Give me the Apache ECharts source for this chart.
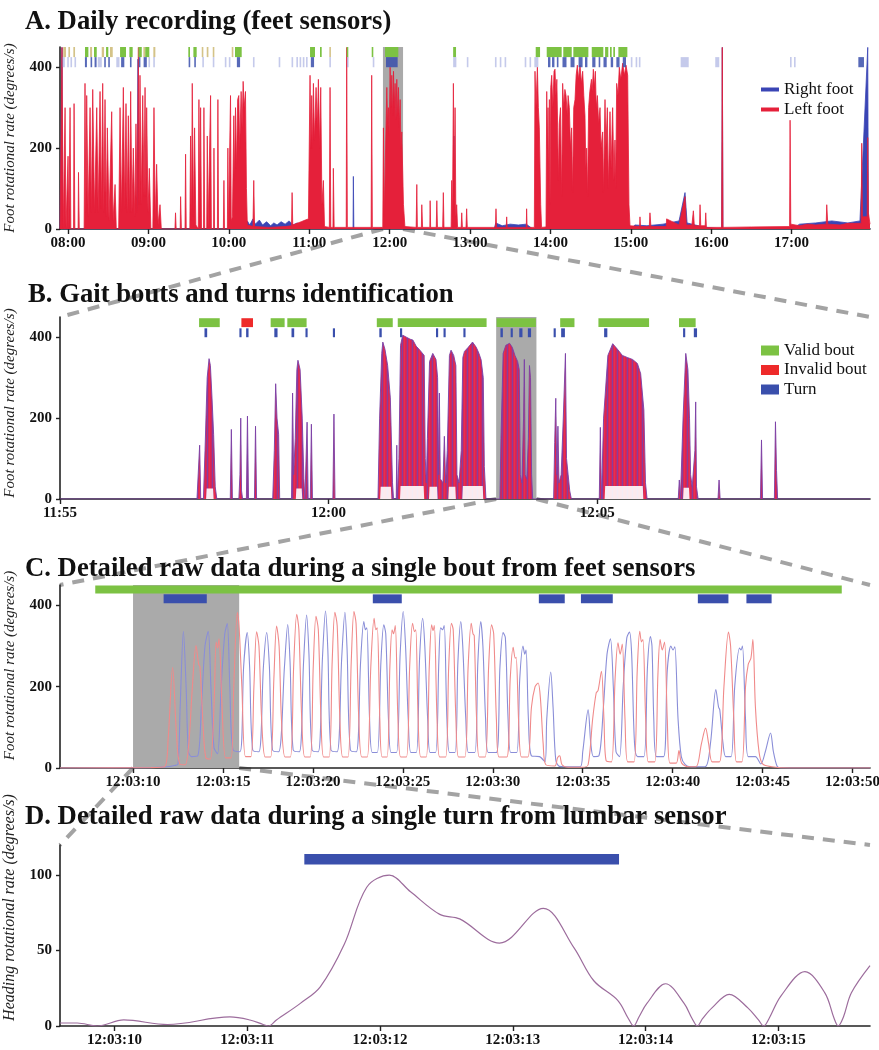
<!DOCTYPE html>
<html><head><meta charset="utf-8">
<script src="https://cdn.jsdelivr.net/npm/echarts@6/dist/echarts.min.js"></script>
<style>html,body{margin:0;padding:0;background:#fff}#c{width:879px;height:1050px}</style>
</head><body><div id="c"></div>
<script>
// ---------- Panel A (x = hour of day, decimal) ----------
const aLeft = [
[7.90,0],[7.925,449],[7.94,0],[7.955,0],[7.963,300],[7.975,0],[7.995,0],[8.0,180],[8.01,0],[8.02,0],[8.025,300],[8.035,0],[8.068,0],[8.075,310],[8.085,0],[8.125,0],[8.13,140],[8.14,0],
[8.2,0],[8.211,360],[8.222,40],[8.232,330],[8.25,30],[8.274,300],[8.29,40],[8.307,345],[8.33,40],[8.357,300],[8.375,40],[8.398,340],[8.415,50],[8.431,360],[8.445,40],[8.46,320],[8.475,30],[8.489,250],[8.51,20],[8.543,290],[8.56,20],[8.585,110],[8.6,0],
[8.63,0],[8.647,300],[8.665,40],[8.688,350],[8.705,50],[8.721,310],[8.735,40],[8.75,280],[8.765,40],[8.779,340],[8.795,40],[8.812,200],[8.83,30],[8.845,260],[8.86,40],[8.875,449],[8.885,60],[8.895,380],[8.91,60],[8.929,330],[8.945,80],[8.958,350],[8.968,80],[8.978,300],[8.995,40],[9.011,150],[9.03,0],
[9.055,0],[9.069,300],[9.085,20],[9.102,160],[9.12,10],[9.144,60],[9.16,0],
[9.33,0],[9.337,40],[9.345,0],[9.395,0],[9.4,80],[9.41,0],[9.455,0],[9.462,185],[9.47,0],
[9.515,0],[9.524,230],[9.535,20],[9.545,360],[9.56,30],[9.574,250],[9.59,10],[9.62,0],[9.628,320],[9.638,30],[9.649,300],[9.66,0],[9.685,0],[9.69,300],[9.7,0],[9.725,0],[9.732,230],[9.742,0],[9.765,0],[9.773,330],[9.783,0],[9.81,0],[9.815,200],[9.822,0],[9.858,0],[9.864,320],[9.872,0],[9.932,0],[9.939,120],[9.946,0],[9.982,0],[9.988,200],[9.995,0],[10.015,0],[10.021,330],[10.03,20],
[10.045,30],[10.062,280],[10.07,120],[10.083,300],[10.095,150],[10.11,320],[10.124,330],[10.135,200],[10.153,340],[10.165,250],[10.178,365],[10.19,300],[10.207,340],[10.219,100],[10.23,10],
[10.3,6],[10.31,120],[10.32,6],[10.5,4],[10.7,6],[10.78,8],[10.787,90],[10.795,10],[10.85,14],[10.9,18],[10.95,22],
[10.99,25],[11.01,380],[11.02,200],[11.031,330],[11.04,200],[11.052,360],[11.065,220],[11.085,350],[11.1,250],[11.114,370],[11.13,200],[11.143,350],[11.158,60],[11.176,120],[11.19,6],
[11.25,4],[11.259,350],[11.268,4],[11.295,4],[11.3,150],[11.31,4],[11.46,4],[11.466,449],[11.474,4],[11.77,4],[11.777,380],[11.785,4],
[11.915,4],[11.923,250],[11.935,30],[11.95,200],[11.965,350],[11.975,260],[11.985,300],[11.995,230],[12.006,400],[12.017,300],[12.027,380],[12.038,280],[12.048,390],[12.058,300],[12.068,360],[12.079,270],[12.089,370],[12.1,280],[12.11,350],[12.12,250],[12.131,320],[12.141,200],[12.151,240],[12.172,60],[12.19,6],
[12.33,4],[12.338,110],[12.345,4],[12.395,4],[12.4,60],[12.41,4],[12.5,4],[12.504,70],[12.51,4],[12.58,4],[12.587,70],[12.595,4],
[12.66,4],[12.668,90],[12.676,4],[12.765,4],[12.772,120],[12.782,30],[12.793,360],[12.805,80],[12.814,300],[12.824,30],[12.834,60],[12.845,4],[12.89,4],[12.897,40],[12.905,4],[12.95,4],[12.958,50],[12.966,4],
[13.316,4],[13.323,50],[13.33,4],[13.45,4],[13.456,30],[13.462,4],[13.7,4],[13.704,50],[13.71,4],
[13.8,4],[13.808,390],[13.82,300],[13.838,400],[13.85,300],[13.862,250],[13.879,60],[13.89,4],
[13.945,5],[13.954,340],[13.962,200],[13.97,300],[13.978,120],[13.987,320],[13.995,60],[14.004,350],[14.016,380],[14.03,300],[14.045,390],[14.057,395],[14.068,330],[14.08,370],[14.09,250],[14.1,120],[14.11,260],[14.125,300],[14.14,80],[14.152,360],[14.165,300],[14.18,345],[14.194,330],[14.21,280],[14.22,330],[14.235,300],[14.25,200],[14.264,250],[14.275,90],[14.29,300],[14.306,320],[14.32,380],[14.335,405],[14.35,370],[14.368,405],[14.385,360],[14.401,390],[14.415,330],[14.43,280],[14.44,150],[14.451,200],[14.462,80],[14.475,300],[14.49,340],[14.51,370],[14.52,340],[14.534,395],[14.547,350],[14.559,390],[14.57,300],[14.584,330],[14.6,260],[14.617,300],[14.63,200],[14.65,240],[14.66,90],[14.679,320],[14.69,200],[14.708,300],[14.72,100],[14.741,290],[14.755,150],[14.774,300],[14.79,120],[14.803,220],[14.812,100],[14.824,360],[14.84,330],[14.857,400],[14.875,370],[14.899,410],[14.92,380],[14.94,405],[14.961,380],[14.977,60],[14.99,8],
[15.11,6],[15.114,30],[15.12,6],[15.23,6],[15.238,40],[15.25,6],[15.44,6],[15.445,25],[15.6,10],[15.674,80],[15.69,10],[15.76,10],[15.778,45],[15.79,8],[15.855,8],[15.861,60],[15.87,8],[15.925,8],[15.932,40],[15.94,4],[16.13,4],[16.138,449],[16.146,4],
[16.5,5],[16.975,6],[16.981,269],[16.99,12],[17.1,8],[17.2,12],[17.3,10],[17.43,12],[17.437,60],[17.45,12],[17.6,10],[17.7,14],[17.865,14],[17.872,212],[17.88,30],[17.94,30],[17.947,226],[17.955,40],[17.975,12]
];
const aRight = [
[7.9,0],[7.92,0],[7.925,449],[7.932,0],[8.86,0],[8.87,420],[8.88,0],[10.2,0],[10.23,20],[10.26,10],[10.3,25],[10.33,12],[10.38,22],[10.42,10],[10.47,18],[10.52,8],[10.56,15],[10.6,10],[10.65,18],[10.7,12],[10.75,20],[10.8,10],[10.85,15],[10.9,8],[10.95,10],[11.0,0],
[11.545,0],[11.549,130],[11.555,0],[12.795,0],[12.8,230],[12.806,0],[13.3,0],[13.32,15],[13.4,8],[13.5,12],[13.6,10],[13.7,12],[13.78,0],
[15.0,0],[15.05,10],[15.2,8],[15.4,12],[15.6,20],[15.674,90],[15.7,15],[15.8,10],[15.9,5],[16.13,0],[16.138,449],[16.146,0],
[17.0,0],[17.1,12],[17.3,15],[17.5,20],[17.7,15],[17.85,20],[17.947,449],[17.955,10],[17.975,0]
];
const aValidBouts = [[8.211,8.253],[8.323,8.357],[8.473,8.501],[8.647,8.721],[8.763,8.804],[8.875,8.917],[8.96,9.011],[9.496,9.517],[9.559,9.6],[10.077,10.16],[11.01,11.072],[11.134,11.155],[11.466,11.486],[11.777,11.797],[11.943,12.108],[12.79,12.826],[13.817,13.871],[13.954,14.14],[14.16,14.265],[14.285,14.472],[14.514,14.658],[14.68,14.72],[14.741,14.762],[14.782,14.803],[14.845,14.957]];
const aOtherBouts = [[7.94,7.975],[8.004,8.025],[8.066,8.087],[8.274,8.299],[8.419,8.448],[8.522,8.556],[8.937,8.96],[9.061,9.086],[9.663,9.683],[9.725,9.746],[9.8,9.816],[10.036,10.056],[11.25,11.267]];
const aTurns = [[8.21,8.235],[8.28,8.3],[8.33,8.355],[8.45,8.47],[8.5,8.52],[8.66,8.7],[8.77,8.79],[8.88,8.9],[8.94,8.98],[9.5,9.515],[9.57,9.59],[10.1,10.14],[11.02,11.06],[11.955,12.1],[13.97,14.0],[14.02,14.05],[14.08,14.1],[14.15,14.2],[14.25,14.3],[14.35,14.4],[14.43,14.46],[14.52,14.56],[14.6,14.62],[14.66,14.7],[14.75,14.78],[14.82,14.86],[14.9,14.94],[17.83,17.9]];
const aTurnsFaint = [[7.93,7.96],[7.99,8.0],[8.03,8.05],[8.08,8.1],[8.37,8.42],[8.6,8.64],[9.0,9.02],[9.06,9.08],[9.67,9.69],[9.8,9.81],[9.95,9.97],[10.0,10.02],[10.3,10.31],[10.62,10.63],[10.78,10.8],[10.84,10.86],[10.88,10.9],[10.92,10.94],[10.96,10.98],[11.25,11.26],[11.47,11.48],[11.79,11.8],[12.79,12.83],[12.96,12.97],[13.31,13.32],[13.37,13.38],[13.43,13.44],[13.68,13.69],[13.74,13.75],[13.8,13.85],[15.0,15.02],[15.06,15.07],[15.1,15.11],[15.62,15.72],[16.05,16.1],[16.98,17.0],[17.03,17.04]];
const aWindow = [[11.917, 12.167]];
const aTicks = [8,9,10,11,12,13,14,15,16,17];

// ---------- Panel B (x = minutes after 11:55) ----------
const bEnvelope = [
[0,0],[2.55,0],[2.6,133],[2.62,0],[2.67,0],[2.70,120],[2.74,300],[2.775,347],[2.8,330],[2.83,250],[2.86,160],[2.89,30],[2.92,0],
[3.17,0],[3.19,172],[3.21,0],[3.33,0],[3.35,60],[3.365,200],[3.38,20],[3.40,0],[3.47,0],[3.49,205],[3.51,0],[3.62,0],[3.64,180],[3.66,0],
[3.96,0],[3.99,120],[4.015,285],[4.04,200],[4.07,160],[4.09,0],
[4.31,0],[4.33,262],[4.35,60],[4.38,150],[4.41,320],[4.43,343],[4.47,320],[4.51,200],[4.54,50],[4.56,0],
[4.58,0],[4.6,190],[4.62,0],[4.66,0],[4.68,185],[4.7,0],[5.08,0],[5.1,210],[5.12,0],
[5.92,0],[5.95,200],[5.99,360],[6.01,388],[6.05,370],[6.1,330],[6.15,250],[6.19,40],[6.21,0],[6.26,0],[6.27,133],[6.28,0],
[6.29,0],[6.31,100],[6.34,380],[6.38,405],[6.45,400],[6.52,395],[6.57,393],[6.63,378],[6.7,368],[6.78,355],[6.8,100],[6.82,40],[6.84,150],[6.88,340],[6.94,360],[7.0,345],[7.03,300],[7.05,60],[7.063,262],[7.08,50],[7.13,40],[7.156,155],[7.18,40],[7.21,120],[7.25,355],[7.28,368],[7.33,355],[7.37,330],[7.39,60],[7.43,40],[7.47,120],[7.5,350],[7.53,365],[7.6,375],[7.68,388],[7.75,375],[7.8,360],[7.84,344],[7.88,300],[7.9,80],[7.93,0],
[8.19,0],[8.21,150],[8.25,360],[8.3,380],[8.37,385],[8.42,375],[8.47,355],[8.52,340],[8.55,320],[8.57,60],[8.6,40],[8.63,200],[8.645,345],[8.66,60],[8.69,50],[8.72,150],[8.74,330],[8.76,300],[8.78,60],[8.8,0],
[9.19,0],[9.21,140],[9.23,249],[9.25,60],[9.27,180],[9.29,40],[9.33,60],[9.37,200],[9.41,360],[9.43,100],[9.46,60],[9.49,20],[9.52,0],
[10.04,0],[10.06,177],[10.08,0],[10.09,0],[10.12,200],[10.2,355],[10.29,384],[10.38,370],[10.47,355],[10.56,350],[10.66,345],[10.75,335],[10.81,310],[10.87,220],[10.9,40],[10.93,0],
[11.51,0],[11.53,47],[11.55,0],[11.58,0],[11.6,200],[11.65,360],[11.69,320],[11.72,200],[11.74,60],[11.77,30],[11.82,120],[11.835,240],[11.85,30],[11.88,0],
[12.25,0],[12.27,47],[12.29,0],[13.04,0],[13.06,146],[13.08,0],[13.3,0],[13.32,191],[13.34,70],[13.36,0],[15.08,0]
];
// light band at the bottom of the dense walking blocks (outside the zoom window)
const bFloor = [
[0,0],[2.72,0],[2.73,26],[2.85,26],[2.86,0],[4.39,0],[4.4,26],[4.5,26],[4.51,0],[5.96,0],[5.97,30],[6.16,30],[6.17,0],
[6.33,0],[6.34,32],[6.77,32],[6.78,0],[6.87,0],[6.88,30],[7.02,30],[7.03,0],[7.23,0],[7.24,30],[7.36,30],[7.37,0],[7.49,0],[7.5,32],[7.87,32],[7.88,0],
[10.14,0],[10.15,32],[10.85,32],[10.86,0],[11.6,0],[11.61,28],[11.71,28],[11.72,0],[15.08,0]
];
const bValidBouts = [[2.589,2.974],[3.922,4.182],[4.232,4.591],[5.898,6.195],[6.288,7.942],[8.128,8.86],[9.312,9.578],[10.024,10.967],[11.524,11.834]];
const bInvalidBouts = [[3.377,3.593]];
const bTurns = [[2.69,2.74],[3.34,3.38],[3.465,3.51],[3.99,4.05],[4.31,4.36],[4.57,4.61],[5.08,5.12],[5.945,5.99],[6.33,6.37],[7.0,7.04],[7.14,7.18],[7.51,7.55],[8.2,8.245],[8.39,8.43],[8.55,8.61],[8.71,8.77],[9.19,9.23],[9.33,9.4],[10.13,10.19],[11.6,11.64],[11.8,11.86]];
const bWindow = [[8.12, 8.87]];
const bTicks = [0,5,10];

// ---------- Panel C (x = seconds after 12:03:00) ----------
const cLeft = [
[5.94,0],[11.0,1],[11.75,3],[11.95,70],[12.2,247],[12.42,80],[12.6,10],[12.9,8],[13.1,60],[13.3,200],[13.5,301],[13.65,255],[13.72,250],[13.9,100],[14.05,25],[14.3,22],[14.5,150],[14.62,310],[14.7,295],[14.78,318],[14.95,150],[15.15,25],[15.45,25],[15.6,200],[15.8,382],[15.9,345],[16.05,200],[16.25,28],[16.55,28],[16.72,200],[16.87,335],[17.0,300],[17.15,120],[17.35,27],[17.65,27],[17.83,220],[17.98,349],[18.12,300],[18.25,120],[18.45,27],[18.75,27],[18.93,250],[19.1,378],[19.22,340],[19.38,120],[19.55,27],[19.85,27],[20.02,250],[20.17,373],[20.3,340],[20.45,120],[20.6,27],[20.9,27],[21.07,260],[21.22,383],[21.35,350],[21.5,120],[21.66,27],[21.95,27],[22.13,260],[22.28,385],[22.4,355],[22.55,120],[22.72,27],[23.02,27],[23.22,250],[23.4,368],[23.5,340],[23.58,345],[23.72,120],[23.85,27],[24.12,27],[24.28,250],[24.4,340],[24.48,330],[24.58,350],[24.72,130],[24.88,27],[25.2,27],[25.38,250],[25.54,356],[25.65,335],[25.72,340],[25.85,120],[26.0,27],[26.3,27],[26.47,250],[26.6,352],[26.68,338],[26.75,350],[26.9,120],[27.05,27],[27.38,27],[27.55,250],[27.7,356],[27.8,340],[27.95,120],[28.1,27],[28.45,27],[28.63,250],[28.8,356],[28.9,330],[28.97,325],[29.1,120],[29.25,27],[29.58,27],[29.77,250],[29.93,352],[30.05,330],[30.2,120],[30.35,27],[30.78,27],[30.97,220],[31.13,297],[31.25,270],[31.3,272],[31.45,100],[31.6,27],[31.95,27],[32.15,150],[32.35,200],[32.52,209],[32.65,170],[32.8,60],[32.95,8],[33.45,5],[33.6,25],[33.72,30],[33.85,8],[34.2,2],[35.0,2],[35.3,8],[35.55,120],[35.75,185],[35.85,190],[36.04,238],[36.18,120],[36.3,18],[36.6,15],[36.8,220],[36.96,308],[37.08,280],[37.2,305],[37.35,120],[37.5,15],[37.85,15],[38.03,240],[38.17,336],[38.27,310],[38.35,316],[38.5,120],[38.65,15],[39.0,15],[39.18,230],[39.3,316],[39.42,290],[39.55,310],[39.7,120],[39.85,12],[40.2,12],[40.35,43],[40.5,12],[40.9,3],[41.3,3],[41.6,60],[41.83,98],[42.0,60],[42.2,15],[42.6,15],[42.85,200],[43.1,334],[43.22,300],[43.4,120],[43.55,15],[43.85,15],[44.05,200],[44.2,255],[44.35,270],[44.46,316],[44.6,150],[44.8,40],[45.0,10],[45.5,3],[46.5,0],[50.97,0]
];
const cRight = [
[5.94,0],[11.0,1],[11.9,3],[12.3,6],[12.5,10],[12.62,150],[12.8,336],[12.95,200],[13.08,40],[13.25,28],[13.6,30],[13.8,150],[14.0,300],[14.18,336],[14.33,200],[14.5,50],[14.7,35],[14.9,200],[15.1,330],[15.24,355],[15.38,200],[15.55,45],[15.95,40],[16.15,250],[16.35,333],[16.48,250],[16.65,45],[17.0,40],[17.25,250],[17.43,333],[17.58,250],[17.75,45],[18.1,40],[18.42,250],[18.6,353],[18.73,260],[18.9,45],[19.25,40],[19.48,260],[19.65,376],[19.78,280],[19.95,45],[20.3,40],[20.53,270],[20.7,386],[20.83,290],[21.0,45],[21.35,40],[21.6,270],[21.78,383],[21.9,290],[22.08,45],[22.42,40],[22.65,260],[22.83,360],[22.92,340],[23.0,345],[23.15,120],[23.3,38],[23.58,38],[23.78,260],[23.94,352],[24.05,330],[24.2,120],[24.35,38],[24.65,38],[24.85,280],[25.02,385],[25.15,300],[25.3,120],[25.45,38],[25.75,38],[25.93,270],[26.1,368],[26.22,300],[26.38,120],[26.52,38],[26.82,38],[27.0,260],[27.1,345],[27.2,340],[27.3,350],[27.45,120],[27.6,38],[27.9,38],[28.06,260],[28.22,360],[28.33,300],[28.5,120],[28.65,38],[29.0,38],[29.17,260],[29.33,360],[29.45,300],[29.6,120],[29.75,38],[30.2,38],[30.4,250],[30.57,333],[30.7,320],[30.85,120],[31.0,38],[31.33,38],[31.5,220],[31.68,300],[31.78,280],[31.85,290],[31.98,120],[32.15,30],[32.6,28],[32.9,15],[33.0,120],[33.22,236],[33.35,150],[33.5,20],[33.7,4],[34.0,3],[34.85,3],[35.0,40],[35.3,143],[35.45,60],[35.6,28],[35.9,30],[36.15,150],[36.35,280],[36.54,318],[36.7,200],[36.85,40],[37.05,28],[37.25,200],[37.45,320],[37.6,334],[37.72,280],[37.88,60],[38.05,28],[38.4,28],[38.6,250],[38.76,323],[38.85,300],[38.95,120],[39.1,28],[39.5,28],[39.7,240],[39.9,300],[40.02,290],[40.12,298],[40.3,120],[40.48,28],[40.7,8],[41.0,3],[41.8,3],[42.1,60],[42.4,193],[42.55,150],[42.62,143],[42.8,60],[42.95,28],[43.25,28],[43.45,200],[43.72,295],[43.8,290],[43.88,300],[44.05,120],[44.2,28],[44.6,28],[44.9,10],[45.15,40],[45.44,86],[45.6,40],[45.8,5],[46.0,0],[50.97,0]
];
const cValidBouts = [[7.9, 49.4]];
const cTurns = [[11.7,14.1],[23.33,24.94],[32.56,34.0],[34.9,36.67],[41.4,43.1],[44.1,45.5]];
const cWindow = [[10.0, 15.9]];
const cTicks = [10,15,20,25,30,35,40,45,50];

// ---------- Panel D (x = seconds after 12:03:00) ----------
const dHeading = [
[9.59,2],[9.72,2],[9.87,0],[10.07,4],[10.4,1],[10.87,6],[11.02,4],[11.12,1],[11.16,0],[11.22,4],[11.4,15],[11.55,26],[11.73,54],[11.9,92],[12.07,100],[12.23,89],[12.45,74],[12.6,71],[12.9,55],[13.23,78],[13.46,52],[13.61,30],[13.79,17],[13.87,5],[13.91,0],[13.95,6],[14.01,15],[14.15,28],[14.29,15],[14.35,5],[14.39,0],[14.43,5],[14.5,12],[14.63,21],[14.77,12],[14.85,4],[14.89,0],[14.93,5],[15.02,20],[15.2,36],[15.35,22],[15.42,5],[15.45,0],[15.49,6],[15.55,22],[15.69,40]
];
const dTurns = [[11.43, 13.8]];
const dTicks = [10,11,12,13,14,15];

// ---------- chart ----------
const SERIF = "'Liberation Serif','Times New Roman',serif";
const pad = n => (n < 10 ? '0' : '') + n;
const fmtA = v => pad(Math.round(v)) + ':00';
const fmtB = v => { const t = 11*60 + 55 + Math.round(v); return pad(Math.floor(t/60)) + ':' + pad(t % 60); };
const fmtS = v => '12:03:' + pad(Math.round(v));

const GREEN = '#7cc243', RED = '#ee2a2a', BLUE = '#3a4fac', GREY = '#aaaaaa';

// striped fill imitating the dense overlap of the two feet signals
const stripe = document.createElement('canvas');
stripe.width = 5; stripe.height = 4;
(function () {
  const g = stripe.getContext('2d');
  const cols = ['#e0234f', '#c52a66', '#8a3d9c', '#d2285c', '#e8304a'];
  cols.forEach(function (c, i) { g.fillStyle = c; g.fillRect(i, 0, 1, 4); });
})();

function band(name, data, gi, lo, hi, color, opacity, z) {
  return {
    type: 'custom', name: name, xAxisIndex: gi, yAxisIndex: gi, z: z || 5, silent: true,
    itemStyle: { color: color }, dimensions: ['start', 'end'], encode: { x: [0, 1] },
    data: data,
    renderItem: function (params, api) {
      const a = api.coord([api.value(0), hi]);
      const b = api.coord([api.value(1), lo]);
      const w = Math.max(b[0] - a[0], 1.6);
      return { type: 'rect', shape: { x: a[0], y: a[1], width: w, height: b[1] - a[1] },
               style: { fill: color, opacity: opacity } };
    }
  };
}

function xAxis(gi, min, max, ticks, fmt) {
  return {
    gridIndex: gi, type: 'value', min: min, max: max, splitLine: { show: false },
    axisLine: { show: true, onZero: false, lineStyle: { color: '#222', width: 1.6 } },
    axisTick: { show: true, length: 5, customValues: ticks, lineStyle: { color: '#222', width: 1.4 } },
    axisLabel: { customValues: ticks, formatter: fmt, fontFamily: SERIF, fontWeight: 'bold', fontSize: 15, color: '#111', margin: 7 }
  };
}
function yAxis(gi, max, ticks, name, padLeft, nameSize) {
  return {
    gridIndex: gi, type: 'value', min: 0, max: max, splitLine: { show: false },
    name: name, nameLocation: 'middle', nameGap: 42,
    nameTextStyle: { fontFamily: SERIF, fontStyle: 'italic', fontSize: nameSize, color: '#222', padding: [0, 0, 0, padLeft] },
    axisLine: { show: true, onZero: false, lineStyle: { color: '#222', width: 1.6 } },
    axisTick: { show: true, length: 4, customValues: ticks, lineStyle: { color: '#222', width: 1.4 } },
    axisLabel: { customValues: ticks, fontFamily: SERIF, fontWeight: 'bold', fontSize: 15, color: '#111', margin: 8 }
  };
}
function areaLine(name, data, gi, color, opacity, z, lw, fill) {
  return { type: 'line', name: name, xAxisIndex: gi, yAxisIndex: gi, data: data, showSymbol: false, silent: true, z: z,
    itemStyle: { color: color }, lineStyle: { color: color, width: lw === undefined ? 0.8 : lw, opacity: opacity },
    areaStyle: { color: fill || color, opacity: opacity } };
}

const titleStyle = { fontFamily: SERIF, fontWeight: 'bold', fontSize: 26.7, color: '#111' };
const FOOT = 'Foot rotational rate (degrees/s)';
const gridBase = { left: 60, right: 9, containLabel: false, outerBoundsMode: 'none' };

const option = {
  animation: false,
  backgroundColor: '#fff',
  title: [
    { text: 'A. Daily recording (feet sensors)', left: 25, top: 9, padding: 0, textStyle: titleStyle },
    { text: 'B. Gait bouts and turns identification', left: 28, top: 282, padding: 0, textStyle: titleStyle },
    { text: 'C. Detailed raw data during a single bout from feet sensors', left: 25, top: 556, padding: 0, textStyle: titleStyle },
    { text: 'D. Detailed raw data during a single turn from lumbar sensor', left: 25, top: 804, padding: 0, textStyle: titleStyle }
  ],
  legend: [
    { data: ['Right foot', 'Left foot'], orient: 'vertical', left: 756, top: 76, icon: 'rect', itemWidth: 18, itemHeight: 4, itemGap: 3,
      selectedMode: false, textStyle: { fontFamily: SERIF, fontSize: 17, color: '#111' } },
    { data: ['Valid bout', 'Invalid bout', 'Turn'], orient: 'vertical', left: 756, top: 337, icon: 'rect', itemWidth: 18, itemHeight: 10, itemGap: 2.5,
      selectedMode: false, textStyle: { fontFamily: SERIF, fontSize: 17, color: '#111' } }
  ],
  grid: [
    Object.assign({ top: 47, height: 182 }, gridBase),
    Object.assign({ top: 317, height: 182 }, gridBase),
    Object.assign({ top: 585, height: 183 }, gridBase),
    Object.assign({ top: 845, height: 181 }, gridBase)
  ],
  xAxis: [
    xAxis(0, 7.9, 17.975, aTicks, fmtA),
    xAxis(1, 0, 15.08, bTicks, fmtB),
    xAxis(2, 5.94, 50.97, cTicks, fmtS),
    xAxis(3, 9.59, 15.69, dTicks, fmtS)
  ],
  yAxis: [
    yAxis(0, 450, [0, 200, 400], FOOT, 0, 15),
    yAxis(1, 450, [0, 200, 400], FOOT, 10, 15),
    yAxis(2, 450, [0, 200, 400], FOOT, 22, 15),
    yAxis(3, 120, [0, 50, 100], 'Heading rotational rate (degrees/s)', 56, 16)
  ],
  series: [
    band('A window', aWindow, 0, 0, 450, GREY, 1, 1),
    areaLine('Right foot', aRight, 0, '#3a45b5', 1, 2),
    areaLine('Left foot', aLeft, 0, '#e5203a', 1, 3),
    band('A bouts other', aOtherBouts, 0, 425, 450, '#c9b46a', 0.8, 5),
    band('A bouts', aValidBouts, 0, 425, 450, GREEN, 1, 5),
    band('A turns faint', aTurnsFaint, 0, 400, 425, '#8c96d8', 0.5, 5),
    band('A turns', aTurns, 0, 400, 425, BLUE, 0.85, 5),

    band('B window', bWindow, 1, 0, 450, GREY, 1, 1),
    areaLine('B feet', bEnvelope, 1, '#7a3fa6', 1, 3, 0.9, { image: stripe, repeat: 'repeat' }),
    areaLine('B floor', bFloor, 1, '#ffffff', 0.9, 4, 0),
    band('Valid bout', bValidBouts, 1, 425, 447, GREEN, 1, 5),
    band('Invalid bout', bInvalidBouts, 1, 425, 447, RED, 1, 5),
    band('Turn', bTurns, 1, 400, 422, BLUE, 1, 5),

    band('C window', cWindow, 2, 0, 450, GREY, 1, 1),
    { type: 'line', name: 'C right', xAxisIndex: 2, yAxisIndex: 2, data: cRight, showSymbol: false, silent: true, smooth: 0.3, z: 3,
      lineStyle: { color: '#8a8ed8', width: 1.1 } },
    { type: 'line', name: 'C left', xAxisIndex: 2, yAxisIndex: 2, data: cLeft, showSymbol: false, silent: true, smooth: 0.3, z: 3,
      lineStyle: { color: '#f08a8a', width: 1.1 } },
    band('C bouts', cValidBouts, 2, 429, 449, GREEN, 1, 5),
    band('C turns', cTurns, 2, 405, 427, BLUE, 1, 5),

    { type: 'line', name: 'D heading', xAxisIndex: 3, yAxisIndex: 3, data: dHeading, showSymbol: false, silent: true, smooth: 0.35, z: 3,
      lineStyle: { color: '#9c6c9c', width: 1.2 } },
    band('D turns', dTurns, 3, 107, 114, BLUE, 1, 5)
  ]
};

const chart = echarts.init(document.getElementById('c'), null, { renderer: 'canvas' });
chart.setOption(option);

// dashed zoom connectors computed from the axes
const conn = [
  [0, aWindow[0], 1, [0, 15.08], 450],
  [1, bWindow[0], 2, [5.94, 50.97], 450],
  [2, cWindow[0], 3, [9.59, 15.69], 120]
];
const graphics = [];
conn.forEach(function (c) {
  const p0 = chart.convertToPixel({ gridIndex: c[0] }, [c[1][0], 0]);
  const p1 = chart.convertToPixel({ gridIndex: c[0] }, [c[1][1], 0]);
  const q0 = chart.convertToPixel({ gridIndex: c[2] }, [c[3][0], c[4]]);
  const q1 = chart.convertToPixel({ gridIndex: c[2] }, [c[3][1], c[4]]);
  [[p0, q0], [p1, q1]].forEach(function (s) {
    graphics.push({ type: 'line', z: 0, silent: true,
      shape: { x1: s[0][0], y1: s[0][1], x2: s[1][0], y2: s[1][1] },
      style: { stroke: '#a3a3a3', lineWidth: 4, lineDash: [12, 9] } });
  });
});
chart.setOption({ graphic: graphics });
</script>
</body></html>
